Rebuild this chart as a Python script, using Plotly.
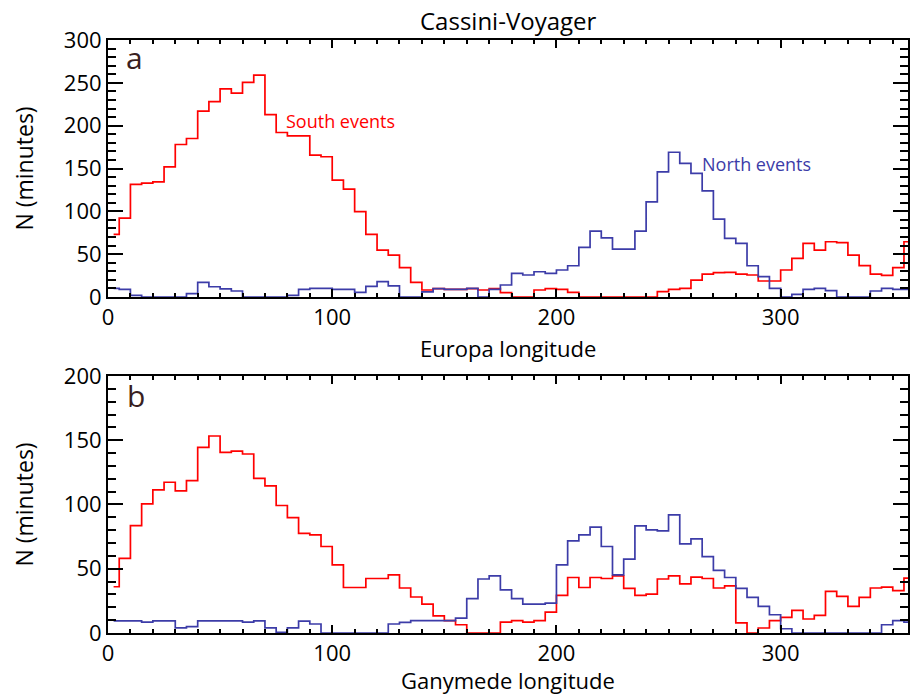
import plotly.graph_objects as go

# bin centres (5-degree bins)
lon = [2.5 + 5 * i for i in range(72)]

europa_south = [73, 92, 131.5, 133, 134.5, 152, 178, 185, 217, 228, 243, 238, 250.5, 259, 213, 192,
                188, 188, 165.7, 163.7, 136.5, 126, 99.6, 73, 54.8, 49, 34.2, 17.1, 8.2, 9.7,
                9, 9, 9.7, 8.2, 9.7, 5, 0, 0, 8.2, 9.7, 9, 5.4, 0, 0, 0, 0,
                0, 0, 0, 6.2, 9, 10, 19.8, 26.8, 28.4, 28.8, 26.8, 25.7, 18.7, 18.7, 31.5, 45,
                62.6, 54.8, 64.5, 63.4, 49, 36.6, 26.8, 25.3, 34.2, 64.5]
europa_north = [10, 9, 2, 0, 0, 0, 0, 4, 17, 12, 9.5, 7, 0, 0, 0, 0,
                2, 9, 10, 10, 9, 9, 5.5, 12.5, 18, 13, 0, 0, 6, 9.7,
                9, 9, 10, 0, 9, 14, 27.6, 25.7, 29.5, 27.6, 31.5, 36.5, 58, 77, 69, 56,
                56, 77, 111, 146, 169, 156, 144.3, 124, 91, 68.5, 62.6, 36.5, 23.7, 10, 0, 3,
                9, 10, 7.4, 0, 0, 0, 7, 10, 9, 9]
ganymede_south = [36, 58, 83.6, 100.5, 111.3, 117.3, 110.6, 118.6, 144.5, 153.3, 140.6, 141.6, 139.3, 120.4, 114.5, 99.2,
                  89.8, 77.5, 76.4, 67.3, 53, 35.4, 35.4, 42.4, 42.4, 45.3, 35, 28, 22.5, 13.4,
                  9.6, 6.4, 0, 0, 0, 8.5, 9.6, 8.5, 9.6, 16.3, 29.2, 43.2, 35.4, 43.2, 42.4, 44.5,
                  34.7, 29.2, 30.3, 42, 44.5, 38.3, 43.5, 42.4, 35, 36.7, 7.8, 0, 3.9, 9.6, 12.1, 17.6,
                  10.9, 13.7, 32.4, 28.5, 20.7, 27.7, 35, 35.7, 32.9, 42.7]
ganymede_north = [9.5, 9.5, 9.5, 8.5, 9.5, 9.5, 4, 5, 9.5, 9.5, 9.5, 9.5, 8.5, 9.5, 4, 0.5,
                  4, 9.3, 7, 0, 0, 0, 0, 0, 0, 7, 8.2, 9.6, 9.6, 9.6,
                  9.6, 11.6, 26.7, 42, 44.5, 33.6, 26.7, 22.5, 22.5, 23.3, 53, 71.7, 76.4, 82.4, 67.3, 45.3,
                  57.5, 83.4, 80.3, 79.5, 91.9, 69.4, 73.3, 59.5, 48.7, 43.2, 34.7, 27.7, 20.7, 14.2, 3.3, 0,
                  0, 0, 0, 0, 0, 0, 0, 6.4, 9.6, 8.5]

RED = "#ff0000"
BLUE = "#3c3ca8"
FONT = "Open Sans"

fig = go.Figure()
fig.add_trace(go.Scatter(x=lon, y=europa_south, mode="lines", line=dict(color=RED, width=1.7, shape="hvh"),
                         xaxis="x", yaxis="y", showlegend=False))
fig.add_trace(go.Scatter(x=lon, y=europa_north, mode="lines", line=dict(color=BLUE, width=1.7, shape="hvh"),
                         xaxis="x", yaxis="y", showlegend=False))
fig.add_trace(go.Scatter(x=lon, y=ganymede_south, mode="lines", line=dict(color=RED, width=1.7, shape="hvh"),
                         xaxis="x2", yaxis="y2", showlegend=False))
fig.add_trace(go.Scatter(x=lon, y=ganymede_north, mode="lines", line=dict(color=BLUE, width=1.7, shape="hvh"),
                         xaxis="x2", yaxis="y2", showlegend=False))

XMAX = 356.8
common_x = dict(range=[0, XMAX], showgrid=False, zeroline=False, showline=True, linecolor="black", linewidth=2,
                mirror="ticks", ticks="inside", ticklen=8, tickwidth=2, tickcolor="black", dtick=100, tick0=0,
                minor=dict(dtick=10, ticks="inside", ticklen=4, tickwidth=1.5, tickcolor="black"),
                tickfont=dict(family=FONT, size=22, color="black"))
xtitle_font = dict(family=FONT, size=22, color="black")
common_y = dict(showgrid=False, zeroline=False, showline=True, linecolor="black", linewidth=2,
                mirror="ticks", ticks="inside", ticklen=15, tickwidth=2, tickcolor="black", dtick=50, tick0=0,
                minor=dict(dtick=10, ticks="inside", ticklen=8, tickwidth=1.5, tickcolor="black"),
                tickfont=dict(family=FONT, size=22, color="black"),
                title=dict(text="N (minutes)", font=dict(family=FONT, size=23, color="black"), standoff=24))

fig.update_layout(
    width=910, height=695,
    margin=dict(l=108, r=0, t=40, b=62),
    paper_bgcolor="white", plot_bgcolor="white",
    xaxis=dict(common_x, domain=[0, 1], anchor="y"),
    yaxis=dict(common_y, domain=[0.5666, 1.0], anchor="x", range=[0, 300]),
    xaxis2=dict(common_x, domain=[0, 1], anchor="y2"),
    yaxis2=dict(common_y, domain=[0.0, 0.4334], anchor="x2", range=[0, 200]),
    annotations=[
        dict(text="Cassini-Voyager", x=0.5, y=1.0, xref="paper", yref="paper", yanchor="bottom", yshift=1,
             showarrow=False, font=dict(family=FONT, size=24, color="black")),
        dict(text="Europa longitude", x=0.5, y=0.4806, xref="paper", yref="paper", yanchor="middle",
             showarrow=False, font=xtitle_font),
        dict(text="Ganymede longitude", x=0.5, y=0.0, yshift=-47, xref="paper", yref="paper", yanchor="middle",
             showarrow=False, font=xtitle_font),
        dict(text="a", x=7, y=280, xref="x", yref="y", xanchor="left", yanchor="middle",
             showarrow=False, font=dict(family=FONT, size=30, color="#3a1f1f")),
        dict(text="b", x=7.5, y=185, xref="x2", yref="y2", xanchor="left", yanchor="middle",
             showarrow=False, font=dict(family=FONT, size=30, color="#3a1f1f")),
        dict(text="South events", x=78.5, y=205.4, xref="x", yref="y", xanchor="left", yanchor="middle",
             showarrow=False, font=dict(family=FONT, size=18, color=RED)),
        dict(text="North events", x=264, y=155.5, xref="x", yref="y", xanchor="left", yanchor="middle",
             showarrow=False, font=dict(family=FONT, size=18, color=BLUE)),
    ],
)

fig.write_html("out.html")
